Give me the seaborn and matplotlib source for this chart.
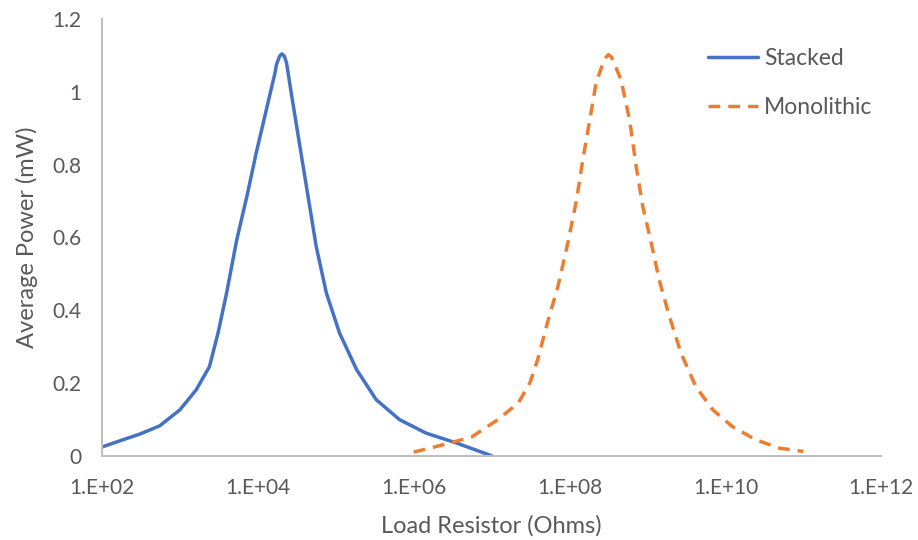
import matplotlib
matplotlib.use("Agg")
import matplotlib.pyplot as plt
import seaborn as sns
import pandas as pd

# values
stacked_r = [1e2, 1.7e2, 3.1e2, 5.5e2, 1e3, 1.62e3, 2.4e3, 3.09e3, 3.98e3, 5.37e3, 7.24e3,
             9.55e3, 1.29e4, 1.66e4, 1.74e4, 1.9e4, 2.04e4, 2.2e4, 2.34e4, 2.69e4, 3.47e4,
             4.42e4, 5.62e4, 7.59e4, 1.12e5, 1.86e5, 3.31e5, 6.61e5, 1.45e6, 3.55e6, 1e7]
stacked_p = [0.024, 0.041, 0.060, 0.082, 0.126, 0.181, 0.245, 0.337, 0.447, 0.593, 0.712,
             0.832, 0.951, 1.051, 1.075, 1.097, 1.104, 1.097, 1.079, 0.996, 0.85,
             0.712, 0.575, 0.447, 0.337, 0.236, 0.154, 0.099, 0.062, 0.035, 0.0]

mono_r = [1e6, 2.0e6, 5.5e6, 1.2e7, 2.2e7, 3.1e7, 3.9e7, 5.2e7, 7.1e7, 9.5e7, 1.23e8,
          1.48e8, 1.82e8, 2.19e8, 2.69e8, 2.95e8, 3.16e8, 3.45e8, 3.8e8, 4.57e8, 5.89e8,
          7.16e8, 8.7e8, 1.12e9, 1.41e9, 1.91e9, 2.69e9, 4.17e9, 6.9e9, 1.23e10, 2.45e10,
          4.9e10, 1e11]
mono_p = [0.010, 0.026, 0.051, 0.099, 0.145, 0.2, 0.264, 0.365, 0.465, 0.584, 0.703,
          0.813, 0.923, 1.024, 1.079, 1.095, 1.102, 1.095, 1.075, 1.033, 0.923,
          0.795, 0.685, 0.584, 0.484, 0.383, 0.282, 0.190, 0.126, 0.080, 0.044,
          0.021, 0.012]

x_ticks = [1e2, 1e4, 1e6, 1e8, 1e10, 1e12]
x_labels = ["1.E+02", "1.E+04", "1.E+06", "1.E+08", "1.E+10", "1.E+12"]
y_ticks = [0, 0.2, 0.4, 0.6, 0.8, 1.0, 1.2]
y_labels = ["0", "0.2", "0.4", "0.6", "0.8", "1", "1.2"]

df = pd.concat([
    pd.DataFrame({"r": stacked_r, "p": stacked_p, "type": "Stacked"}),
    pd.DataFrame({"r": mono_r, "p": mono_p, "type": "Monolithic"}),
], ignore_index=True)

sns.set_theme(style="white")
plt.rcParams["font.family"] = ["Lato", "DejaVu Sans"]
grey = "#595959"

fig = plt.figure(figsize=(9.18, 5.4), dpi=100)
ax = fig.add_axes([0.111, 0.156, 0.849, 0.809])

sns.lineplot(data=df, x="r", y="p", hue="type", style="type", sort=False,
             palette={"Stacked": "#4472C4", "Monolithic": "#ED7D31"},
             dashes={"Stacked": "", "Monolithic": (3.4, 2.3)},
             linewidth=2.5, ax=ax)

ax.set_xscale("log")
ax.set_xlim(1e2, 1e12)
ax.set_ylim(0, 1.2)
ax.set_xticks(x_ticks)
ax.set_xticklabels(x_labels)
ax.minorticks_off()
ax.set_yticks(y_ticks)
ax.set_yticklabels(y_labels)

for s in ["top", "right"]:
    ax.spines[s].set_visible(False)
for s in ["left", "bottom"]:
    ax.spines[s].set_color("#BFBFBF")
    ax.spines[s].set_linewidth(1.5)
ax.tick_params(axis="both", colors="#BFBFBF", labelcolor=grey, labelsize=15,
               length=5, width=1.5, direction="out")
ax.tick_params(axis="x", pad=11)
ax.tick_params(axis="y", pad=10)

ax.set_xlabel("Load Resistor (Ohms)", color=grey, fontsize=17, labelpad=12)
ax.set_ylabel("Average Power (mW)", color=grey, fontsize=17, labelpad=10)

leg = ax.legend(loc="upper right", bbox_to_anchor=(1.0, 0.955), frameon=False,
                fontsize=16.5, handlelength=2.2, handletextpad=0.25, labelspacing=1.25,
                labelcolor=grey, borderaxespad=0.0)

fig.savefig("out.png", dpi=100)
